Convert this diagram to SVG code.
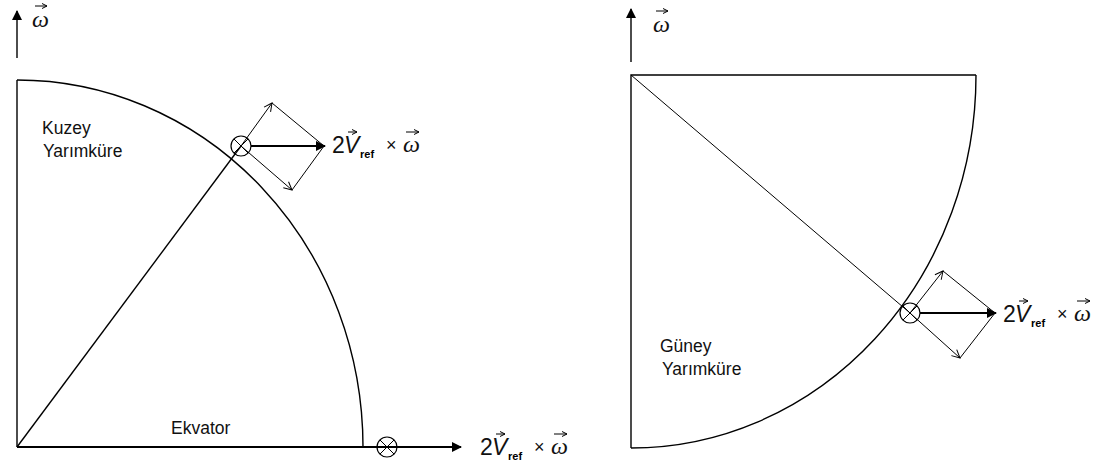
<svg xmlns="http://www.w3.org/2000/svg" width="1114" height="468" viewBox="0 0 1114 468">
<style>
.ln{fill:none;stroke:#000;stroke-width:1.4}
.th{fill:none;stroke:#000;stroke-width:1}
.bd{fill:none;stroke:#000;stroke-width:2}
.lbl{font-family:"Liberation Sans",Arial,sans-serif;font-size:17.5px;fill:#111}
.num{font-family:"Liberation Sans",Arial,sans-serif;font-size:23px;fill:#111}
.vv{font-family:"Liberation Sans",Arial,sans-serif;font-size:23px;font-style:italic;fill:#111}
.sub{font-family:"Liberation Sans",Arial,sans-serif;font-size:11px;font-weight:bold;fill:#000}
.tim{font-family:"Liberation Sans",Arial,sans-serif;font-size:18px;fill:#111}
.om{font-family:"Liberation Serif","Times New Roman",serif;font-size:24px;font-style:italic;fill:#111}
</style>
<defs>
<marker id="fh" markerWidth="10" markerHeight="10" refX="9" refY="5" orient="auto" markerUnits="userSpaceOnUse">
<path d="M0,0 L10,5 L0,10 z" fill="#000"/>
</marker>
<marker id="oh" markerWidth="10" markerHeight="10" refX="9" refY="5" orient="auto" markerUnits="userSpaceOnUse">
<path d="M1,1 L9,5 L1,9" fill="none" stroke="#000" stroke-width="1"/>
</marker>
<marker id="sh" markerWidth="6" markerHeight="6" refX="5" refY="3" orient="auto" markerUnits="userSpaceOnUse">
<path d="M0,0.5 L5,3 L0,5.5" fill="none" stroke="#000" stroke-width="1"/>
</marker>
<g id="cross">
<circle cx="0" cy="0" r="10" fill="none" stroke="#000" stroke-width="1.2"/>
<path d="M-7,-7 L7,7 M-7,7 L7,-7" stroke="#000" stroke-width="1"/>
</g>
<g id="vlabel">
<text class="num" x="0" y="0">2</text>
<text class="vv" x="12" y="0">V</text>
<path d="M16,-21 L25,-21" fill="none" stroke="#000" stroke-width="1" marker-end="url(#sh)"/>
<text class="sub" x="28" y="5">ref</text>
<text class="tim" x="54" y="-2">×</text>
<text class="om" x="71" y="-1">ω</text>
<path d="M74,-21 L87,-21" fill="none" stroke="#000" stroke-width="1" marker-end="url(#sh)"/>
</g>
</defs>

<g id="left-diagram">
<g id="left-omega-axis">
<line class="ln" x1="17" y1="58" x2="17" y2="11" marker-end="url(#fh)"/>
<text class="om" x="32" y="27">ω</text>
<path d="M35,6 L47,6" fill="none" stroke="#000" stroke-width="1" marker-end="url(#sh)"/>
</g>
<g id="kuzey-shape">
<path class="ln" d="M17,447 L17,80"/>
<path class="ln" d="M17,80 A346,367 0 0 1 363,447"/>
</g>
<g id="kuzey-label">
<text class="lbl" x="42" y="134">Kuzey</text>
<text class="lbl" x="43" y="157">Yarımküre</text>
</g>
<g id="ekvator-label">
<text class="lbl" x="171" y="434">Ekvator</text>
</g>
<g id="north-point">
<use href="#cross" x="241" y="146"/>
</g>
<g id="north-force-label">
<use href="#vlabel" x="332" y="153"/>
</g>
<g id="equator-point">
<use href="#cross" x="387" y="447"/>
</g>
<g id="equator-force-label">
<use href="#vlabel" x="480" y="455"/>
</g>
</g>

<g id="right-diagram">
<g id="right-omega-axis">
<line class="ln" x1="631" y1="62" x2="631" y2="9" marker-end="url(#fh)"/>
<text class="om" x="653" y="32">ω</text>
<path d="M656,11 L668,11" fill="none" stroke="#000" stroke-width="1" marker-end="url(#sh)"/>
</g>
<g id="guney-shape">
<path class="ln" d="M631,448 L631,75 L976,75"/>
<path class="ln" d="M631,448 A345,373 0 0 0 976,75"/>
</g>
<g id="guney-label">
<text class="lbl" x="660" y="352">Güney</text>
<text class="lbl" x="662" y="375">Yarımküre</text>
</g>
<g id="south-point">
<use href="#cross" x="910" y="313"/>
</g>
<g id="south-force-label">
<use href="#vlabel" x="1003" y="322"/>
</g>
</g>

<g id="connectors">
<line class="ln" x1="17" y1="447" x2="241" y2="146"/>
<line class="bd" x1="17" y1="447" x2="461" y2="447" marker-end="url(#fh)"/>
<line class="th" x1="241" y1="146" x2="272" y2="103" marker-end="url(#oh)"/>
<line class="th" x1="241" y1="146" x2="292" y2="190" marker-end="url(#oh)"/>
<line class="th" x1="272" y1="103" x2="324" y2="146"/>
<line class="th" x1="292" y1="190" x2="324" y2="146"/>
<line class="bd" x1="251" y1="146" x2="325" y2="146" marker-end="url(#fh)"/>
<line class="th" x1="631" y1="75" x2="910" y2="313"/>
<line class="th" x1="910" y1="313" x2="943" y2="271" marker-end="url(#oh)"/>
<line class="th" x1="910" y1="313" x2="960" y2="358" marker-end="url(#oh)"/>
<line class="th" x1="943" y1="271" x2="995" y2="313"/>
<line class="th" x1="960" y1="358" x2="995" y2="313"/>
<line class="bd" x1="920" y1="313" x2="996" y2="313" marker-end="url(#fh)"/>
</g>
</svg>
